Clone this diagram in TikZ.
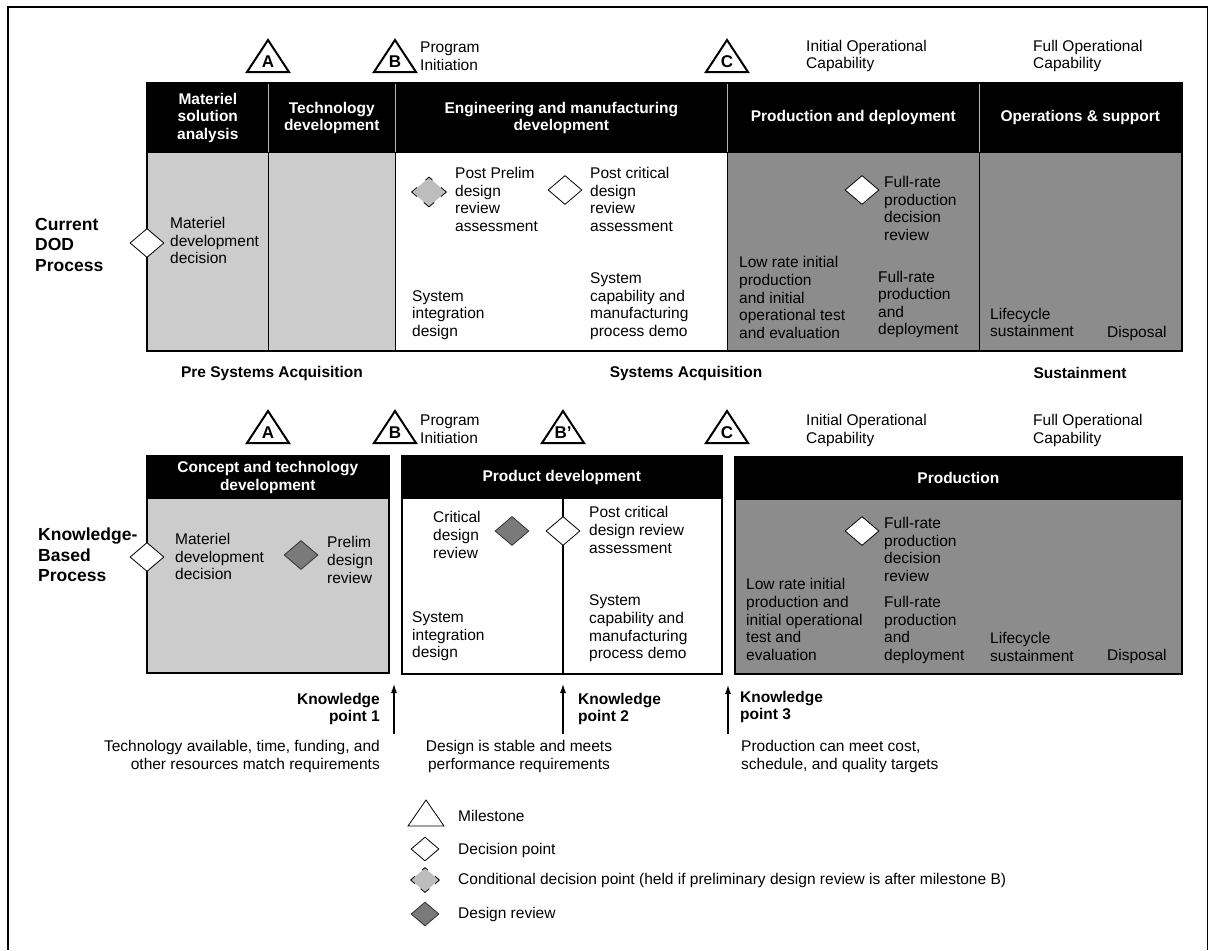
\documentclass[tikz,border=0pt]{standalone}
\usepackage{fontspec}
\setmainfont{Liberation Sans}
\usetikzlibrary{shapes.geometric,arrows.meta,calc}
\definecolor{lgray}{HTML}{CCCCCC}
\definecolor{dgray}{HTML}{8C8C8C}
\definecolor{rgray}{HTML}{7A7A7A}
\definecolor{cgray}{HTML}{BDBDBD}
\definecolor{sepgray}{HTML}{B4B4B4}
\newcommand\mymilestone[3]{%
  \coordinate (#1) at #2;
  \draw[ms] ($(#1)+(-21,0)$) -- ($(#1)+(0,-32)$) -- ($(#1)+(21,0)$) -- cycle;
  \node[mslet] (#1l) at ($(#1)+(0,-10.5)$) {#3};}
\newcommand\mycondoutline[1]{%
  \draw[line width=0.8pt] ($(#1.west)!0.3!(#1.north)$) -- (#1.west) -- ($(#1.west)!0.3!(#1.south)$);
  \draw[line width=0.8pt] ($(#1.south)!0.3!(#1.west)$) -- (#1.south) -- ($(#1.south)!0.3!(#1.east)$);
  \draw[line width=0.8pt] ($(#1.east)!0.3!(#1.south)$) -- (#1.east) -- ($(#1.east)!0.3!(#1.north)$);
  \draw[line width=0.8pt] ($(#1.north)!0.2!(#1.east)$) -- (#1.north) -- ($(#1.north)!0.2!(#1.west)$);}
\begin{document}
\begin{tikzpicture}[x=1pt,y=-1pt,
  txt/.style={font=\fontsize{15.5}{17.6}\selectfont, align=left, anchor=west, inner sep=0pt},
  hdrtxt/.style={font=\bfseries\fontsize{15.5}{17.6}\selectfont, text=white, align=center},
  lbl/.style={font=\bfseries\fontsize{17.5}{20.5}\selectfont, align=left, anchor=west, inner sep=0pt},
  bold/.style={font=\bfseries\fontsize{15.5}{17.6}\selectfont, inner sep=0pt},
  cell/.style={draw=black, line width=1.2pt, anchor=north west, inner sep=0pt},
  hdr/.style={fill=black, draw=black, line width=0.6pt, anchor=north west, inner sep=0pt, hdrtxt},
  dec/.style={diamond, draw=black, fill=white, line width=0.8pt, minimum width=34pt, minimum height=29pt, inner sep=0pt},
  rev/.style={dec, fill=rgray, draw=black!80},
  cond/.style={dec, fill=cgray, draw=none},
  ldec/.style={dec, minimum width=28pt, minimum height=24pt},
  ms/.style={line width=2pt, line join=miter},
  mslet/.style={font=\bfseries\fontsize{17}{19}\selectfont, inner sep=0pt},
  kparrow/.style={line width=1.1pt, -{Latex[length=9pt,width=6pt]}},
  sep/.style={draw=sepgray, line width=1.5pt}
]
\useasboundingbox (0,0) rectangle (1209,950);
% outer frame (open at the bottom)
\coordinate (f1) at (8,950);
\coordinate (f2) at (8,7);
\coordinate (f3) at (1207.5,7);
\coordinate (f4) at (1207.5,950);
\draw[line width=1.2pt] (f1) -- (f2) -- (f3) -- (f4);

% ===== Top: Current DOD process =====
\node[hdr, minimum width=121, minimum height=69] (th1) at (147,83) {Materiel\\solution\\analysis};
\node[hdr, minimum width=127, minimum height=69] (th2) at (268,83) {Technology\\development};
\node[hdr, minimum width=332, minimum height=69] (th3) at (395,83) {Engineering and manufacturing\\development};
\node[hdr, minimum width=252, minimum height=69] (th4) at (727,83) {Production and deployment};
\node[hdr, minimum width=202, minimum height=69] (th5) at (979,83) {Operations \& support};
\draw[sep] (th1.north east) -- (th1.south east);
\draw[sep] (th2.north east) -- (th2.south east);
\draw[sep] (th3.north east) -- (th3.south east);
\draw[sep] (th4.north east) -- (th4.south east);

\node[cell, fill=lgray, minimum width=121, minimum height=198] (tb1) at (147,152) {};
\node[cell, fill=lgray, minimum width=127, minimum height=198] (tb2) at (268,152) {};
\node[cell, fill=white, minimum width=332, minimum height=198] (tb3) at (395,152) {};
\node[cell, fill=dgray, minimum width=252, minimum height=198] (tb4) at (727,152) {};
\node[cell, fill=dgray, minimum width=202, minimum height=198] (tb5) at (979,152) {};
\draw[line width=1.5pt] (th1.north west) rectangle (tb5.south east);

\node[lbl] (curlbl) at (35,244.5) {Current\\DOD\\Process};

\node[dec] (tmdd) at (147,243) {};
\node[txt] (tmddt) at (170,240.5) {Materiel\\development\\decision};
\node[cond] (tppd) at (429,192) {};
\mycondoutline{tppd}
\node[txt] (tppdt) at (455,199.5) {Post Prelim\\design\\review\\assessment};
\node[dec] (tpcd) at (565,190) {};
\node[txt] (tpcdt) at (590,199.5) {Post critical\\design\\review\\assessment};
\node[txt] (tsid) at (412,315) {System\\integration\\design};
\node[txt] (tscm) at (590,306) {System\\capability and\\manufacturing\\process demo};
\node[dec] (tfrd) at (862,190) {};
\node[txt] (tfrdt) at (884,208.5) {Full-rate\\production\\decision\\review};
\node[txt] (tlri) at (739,297.5) {Low rate initial\\production\\and initial\\operational test\\and evaluation};
\node[txt] (tfrp) at (878,304.5) {Full-rate\\production\\and\\deployment};
\node[txt] (tls) at (990,322.5) {Lifecycle\\sustainment};
\node[txt] (tdis) at (1107,333) {Disposal};

% milestones top
\mymilestone{mtA}{(268,72)}{A}
\mymilestone{mtB}{(395,72)}{B}
\mymilestone{mtC}{(727,72)}{C}
\node[txt] (tpi) at (420,56) {Program\\Initiation};
\node[txt] (tioc) at (806,56) {Initial Operational\\Capability};
\node[txt] (tfoc) at (1033,56) {Full Operational\\Capability};

% phase labels
\node[bold] (lpre) at (272,373) {Pre Systems Acquisition};
\node[bold] (lsys) at (686,373) {Systems Acquisition};
\node[bold] (lsus) at (1080,373) {Sustainment};

% ===== Bottom: Knowledge-based process =====
\mymilestone{mbA}{(268,443)}{A}
\mymilestone{mbB}{(395,443)}{B}
\mymilestone{mbBp}{(563,443)}{B’}
\mymilestone{mbC}{(727,443)}{C}
\node[txt] (bpi) at (420,429.5) {Program\\Initiation};
\node[txt] (bioc) at (806,430.5) {Initial Operational\\Capability};
\node[txt] (bfoc) at (1033,430.5) {Full Operational\\Capability};

\node[hdr, minimum width=241, minimum height=42] (bh1) at (147,456) {Concept and technology\\development};
\node[cell, fill=lgray, minimum width=241, minimum height=174] (bb1) at (147,498) {};
\draw[line width=1.5pt] (bh1.north west) rectangle (bb1.south east);

\node[hdr, minimum width=319, minimum height=42] (bh2) at (402,456) {Product development};
\node[cell, fill=white, minimum width=319, minimum height=175] (bb2) at (402,498) {};
\draw[line width=1.5pt] (bh2.north west) rectangle (bb2.south east);
\coordinate (bdivt) at (563,498);
\coordinate (bdivb) at (563,673);
\draw[line width=1.2pt] (bdivt) -- (bdivb);

\node[hdr, minimum width=446, minimum height=42] (bh3) at (735,457) {Production};
\node[cell, fill=dgray, minimum width=446, minimum height=174] (bb3) at (735,499) {};
\draw[line width=1.5pt] (bh3.north west) rectangle (bb3.south east);

\node[lbl] (kblbl) at (38,555) {Knowledge-\\Based\\Process};

\node[dec] (bmdd) at (147,557) {};
\node[txt] (bmddt) at (175,556.5) {Materiel\\development\\decision};
\node[rev] (bpdr) at (301,555) {};
\node[txt] (bpdrt) at (327,560) {Prelim\\design\\review};
\node[txt] (bcdrt) at (433,535) {Critical\\design\\review};
\node[rev] (bcdr) at (512,531) {};
\node[dec] (bpcd) at (563,531) {};
\node[txt] (bpcdt) at (589,530) {Post critical\\design review\\assessment};
\node[txt] (bsid) at (412,636.5) {System\\integration\\design};
\node[txt] (bscm) at (589,628.5) {System\\capability and\\manufacturing\\process demo};
\node[dec] (bfrd) at (862,531) {};
\node[txt] (bfrdt) at (884,549.5) {Full-rate\\production\\decision\\review};
\node[txt] (blri) at (746,619.5) {Low rate initial\\production and\\initial operational\\test and\\evaluation};
\node[txt] (bfrp) at (884,630) {Full-rate\\production\\and\\deployment};
\node[txt] (bls) at (990,647) {Lifecycle\\sustainment};
\node[txt] (bdis) at (1107,656) {Disposal};

% knowledge points
\coordinate (k1s) at (394,734);
\coordinate (k1e) at (394,684);
\draw[kparrow] (k1s) -- (k1e);
\node[bold, align=right, anchor=east] (k1t) at (380,709) {Knowledge\\point 1};
\node[txt, align=right, anchor=east] (k1d) at (380,756.5) {Technology available, time, funding, and\\other resources match requirements};

\coordinate (k2s) at (563,734);
\coordinate (k2e) at (563,684);
\draw[kparrow] (k2s) -- (k2e);
\node[bold, align=left, anchor=west] (k2t) at (578,709) {Knowledge\\point 2};
\node[txt, align=center, anchor=center] (k2d) at (519,756.5) {Design is stable and meets\\performance requirements};

\coordinate (k3s) at (728,734);
\coordinate (k3e) at (728,685);
\draw[kparrow] (k3s) -- (k3e);
\node[bold, align=left, anchor=west] (k3t) at (740,707) {Knowledge\\point 3};
\node[txt] (k3d) at (741,756.5) {Production can meet cost,\\schedule, and quality targets};

% legend
\coordinate (lgt) at (426,826);
\draw[line width=0.8pt] ($(lgt)+(-18,0)$) -- ($(lgt)+(0,-26)$) -- ($(lgt)+(18,0)$) -- cycle;
\node[txt] (lgtt) at (458,816) {Milestone};
\node[ldec] (lgd) at (425,849) {};
\node[txt] (lgdt) at (458,850) {Decision point};
\node[ldec, fill=cgray, draw=none] (lgc) at (425,880) {};
\mycondoutline{lgc}
\node[txt] (lgct) at (458,880) {Conditional decision point (held if preliminary design review is after milestone B)};
\node[ldec, fill=rgray, draw=black!80] (lgr) at (425,914) {};
\node[txt] (lgrt) at (458,914) {Design review};
\end{tikzpicture}
\end{document}
